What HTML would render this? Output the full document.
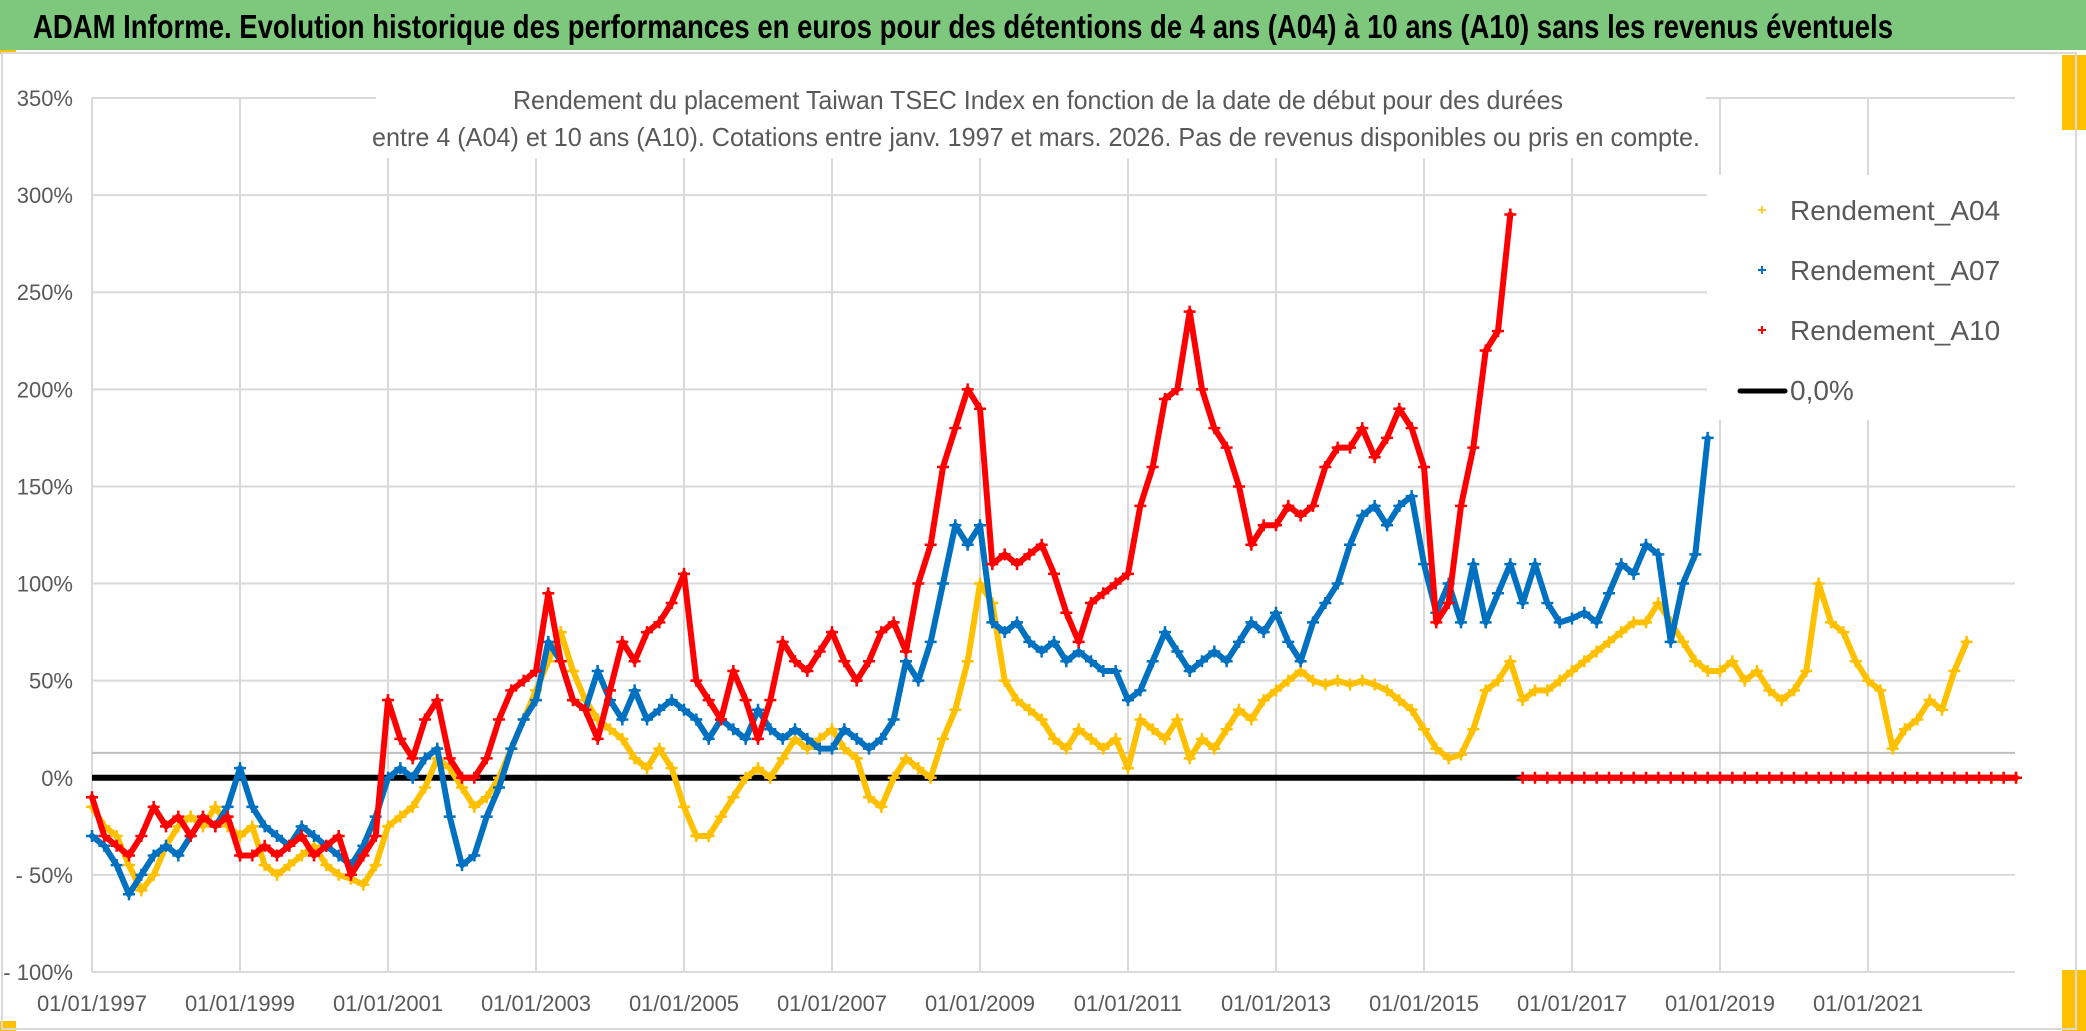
<!DOCTYPE html>
<html><head><meta charset="utf-8">
<style>
html,body{margin:0;padding:0;background:#fff;}
#wrap{position:relative;width:2086px;height:1031px;overflow:hidden;background:#fff;}
svg text{font-family:"Liberation Sans Narrow","Liberation Sans",sans-serif;}
</style></head>
<body>
<div id="wrap">
<svg id="chart" width="2086" height="1031" viewBox="0 0 2086 1031">
  <rect x="0" y="0" width="2086" height="1031" fill="#fff"/>
  <rect x="0" y="0" width="2086" height="50" fill="#7DC87D"/>
  <text x="33" y="38" font-size="33" font-weight="bold" fill="#000" textLength="1860" lengthAdjust="spacingAndGlyphs">ADAM Informe. Evolution historique des performances en euros pour des détentions de 4 ans (A04) à 10 ans (A10) sans les revenus éventuels</text>
  <rect x="0" y="50" width="16" height="4" fill="#FFC000"/>
  <rect x="2062" y="55" width="24" height="75" fill="#FFC000"/>
  <rect x="2062" y="970" width="24" height="61" fill="#FFC000"/>
  <rect x="0" y="1021" width="16" height="10" fill="#FFC000"/>
  <rect x="2" y="53" width="2074" height="976" fill="none" stroke="#D9D9D9" stroke-width="2"/>
  <g id="grid"></g>
  <g id="yaxis"></g>
  <g id="xaxis"></g>
  <g id="series"></g>
  <rect x="376" y="78" width="1330" height="80" fill="#fff"/>
  <text x="1038" y="109" font-size="26" fill="#595959" text-anchor="middle" textLength="1050" lengthAdjust="spacingAndGlyphs">Rendement du placement Taiwan TSEC Index en fonction de la date de début pour des durées</text>
  <text x="1036" y="146" font-size="26" fill="#595959" text-anchor="middle" textLength="1328" lengthAdjust="spacingAndGlyphs">entre 4 (A04) et 10 ans (A10). Cotations entre janv. 1997 et mars. 2026. Pas de revenus disponibles ou pris en compte.</text>
  <g>
    <rect x="1707" y="175" width="310" height="245" fill="#fff"/>
    <g>
      <path d="M1758 210h8M1762 206v8" stroke="#FFC000" stroke-width="1.5"/>
      <text x="1790" y="220" font-size="28" fill="#595959">Rendement_A04</text>
    </g>
    <g>
      <path d="M1758 270h8M1762 266v8" stroke="#0070C0" stroke-width="2"/>
      <text x="1790" y="280" font-size="28" fill="#595959">Rendement_A07</text>
    </g>
    <g>
      <path d="M1758 330h8M1762 326v8" stroke="#FF0000" stroke-width="2"/>
      <text x="1790" y="340" font-size="28" fill="#595959">Rendement_A10</text>
    </g>
    <g>
      <line x1="1740" y1="391" x2="1785" y2="391" stroke="#000" stroke-width="5" stroke-linecap="round"/>
      <text x="1790" y="400" font-size="28" fill="#595959">0,0%</text>
    </g>
  </g>
</svg>
</div>
<script>
const yTicks = [350, 300, 250, 200, 150, 100, 50, 0, -50, -100];
const yTickLabels = ["350%","300%","250%","200%","150%","100%","50%","0%","- 50%","- 100%"];
const xTickYears = [1997,1999,2001,2003,2005,2007,2009,2011,2013,2015,2017,2019,2021];
const xTickLabels = ["01/01/1997","01/01/1999","01/01/2001","01/01/2003","01/01/2005","01/01/2007","01/01/2009","01/01/2011","01/01/2013","01/01/2015","01/01/2017","01/01/2019","01/01/2021"];
const startYear = 1997;
const stepYears = 1/6;
const refLineValue = 12.8;
const a04 = [-15,-25,-30,-45,-58,-50, -35,-25,-20,-25,-15,-25, -30,-25,-45,-50,-45,-40, -35,-45,-50,-52,-55,-45,
 -25,-20,-15,-5,10,5, -5,-15,-10,0,15,30, 45,60,75,55,40,30, 25,20,10,5,15,5, -15,-30,-30,-20,-10,0,
 5,0,10,20,15,20, 25,15,10,-10,-15,0, 10,5,0,20,35,60, 100,90,50,40,35,30, 20,15,25,20,15,20,
 5,30,25,20,30,10, 20,15,25,35,30,40, 45,50,55,50,48,50, 48,50,48,45,40,35, 25,15,10,12,25,45,
 50,60,40,45,45,50, 55,60,65,70,75,80, 80,90,80,70,60,55, 55,60,50,55,45,40, 45,55,100,80,75,60,
 50,45,15,25,30,40, 35,55,70,0,0,0, 0];
const a07 = [-30,-35,-45,-60,-50,-40, -35,-40,-30,-20,-25,-15, 5,-15,-25,-30,-35,-25, -30,-35,-40,-45,-35,-20,
 0,5,0,10,15,-20, -45,-40,-20,-5,15,30, 40,70,60,40,35,55, 40,30,45,30,35,40, 35,30,20,30,25,20,
 35,25,20,25,20,15, 15,25,20,15,20,30, 60,50,70,100,130,120, 130,80,75,80,70,65, 70,60,65,60,55,55,
 40,45,60,75,65,55, 60,65,60,70,80,75, 85,70,60,80,90,100, 120,135,140,130,140,145, 110,85,100,80,110,80,
 95,110,90,110,90,80, 82,85,80,95,110,105, 120,115,70,100,115,175];
const a10 = [-10,-30,-35,-40,-30,-15, -25,-20,-30,-20,-25,-20, -40,-40,-35,-40,-35,-30, -40,-35,-30,-50,-40,-30,
 40,20,10,30,40,10, 0,0,10,30,45,50, 55,95,60,40,35,20, 45,70,60,75,80,90, 105,50,40,30,55,40,
 20,40,70,60,55,65, 75,60,50,60,75,80, 65,100,120,160,180,200, 190,110,115,110,115,120, 105,85,70,90,95,100,
 105,140,160,195,200,240, 200,180,170,150,120,130, 130,140,135,140,160,170, 170,180,165,175,190,180, 160,80,90,140,170,220,
 230,290, 0,0,0,0, 0,0,0,0,0,0, 0,0,0,0,0,0, 0,0,0,0,0,0, 0,0,0,0,0,0, 0,0,0,0,0,0, 0,0,0,0,0,0, 0];

const NS = "http://www.w3.org/2000/svg";
const plotL = 92, plotR = 2015, plotT = 98, plotB = 972;
const pxPerYear = 74;
function xScale(yr){ return plotL + (yr - startYear) * pxPerYear; }
function yScale(v){ return plotB - (v - (-100)) * (plotB - plotT) / 450; }
function mk(tag, attrs, parent){ const e = document.createElementNS(NS, tag); for (const k in attrs) e.setAttribute(k, attrs[k]); parent.appendChild(e); return e; }

const grid = document.getElementById('grid');
const yaxis = document.getElementById('yaxis');
const xaxis = document.getElementById('xaxis');
const series = document.getElementById('series');

yTicks.forEach((v, i) => {
  const ln = mk('line', {x1: plotL, x2: plotR, y1: yScale(v), y2: yScale(v), stroke: '#D9D9D9', 'stroke-width': 2}, grid);
  
  
  const t = mk('text', {x: 73, y: yScale(v) + 8, 'font-size': 22, fill: '#595959', 'text-anchor': 'end'}, yaxis);
  t.textContent = yTickLabels[i];
  
  
});
xTickYears.forEach((yr, i) => {
  const ln = mk('line', {x1: xScale(yr), x2: xScale(yr), y1: plotT, y2: plotB, stroke: '#D9D9D9', 'stroke-width': 2}, grid);
  
  
  const t = mk('text', {x: xScale(yr), y: 1011, 'font-size': 22, fill: '#595959', 'text-anchor': 'middle'}, xaxis);
  t.textContent = xTickLabels[i];
  
  
});
const ref = mk('line', {x1: plotL, x2: plotR, y1: yScale(refLineValue), y2: yScale(refLineValue), stroke: '#BFBFBF', 'stroke-width': 2}, grid);



const zero = mk('line', {x1: plotL, x2: plotR, y1: yScale(0), y2: yScale(0), stroke: '#000', 'stroke-width': 6}, series);



function drawSeries(vals, color, name){
  const g = mk('g', {}, series);
  
  
  let d = '';
  vals.forEach((v, i) => {
    const x = xScale(startYear + i * stepYears).toFixed(1), y = yScale(v).toFixed(1);
    const p = i > 0 ? vals[i-1] : null;
    const brk = i === 0 || (v === 0 && Math.abs(p) >= 50) || (p === 0 && Math.abs(v) >= 50);
    d += (brk ? 'M' : 'L') + x + ' ' + y + ' ';
  });
  const pl = mk('path', {d: d, fill: 'none', stroke: color, 'stroke-width': 6, 'stroke-linejoin': 'round', 'stroke-linecap': 'round'}, g);
  
  
  vals.forEach((v, i) => {
    const x = xScale(startYear + i * stepYears), y = yScale(v);
    const p = mk('path', {d: `M${x-6} ${y}h12M${x} ${y-6}v12`, stroke: color, 'stroke-width': 2.5}, g);
    
    
  });
}
drawSeries(a04, '#FFC000', 'series-a04');
drawSeries(a07, '#0070C0', 'series-a07');
drawSeries(a10, '#FF0000', 'series-a10');
</script>
</body></html>
